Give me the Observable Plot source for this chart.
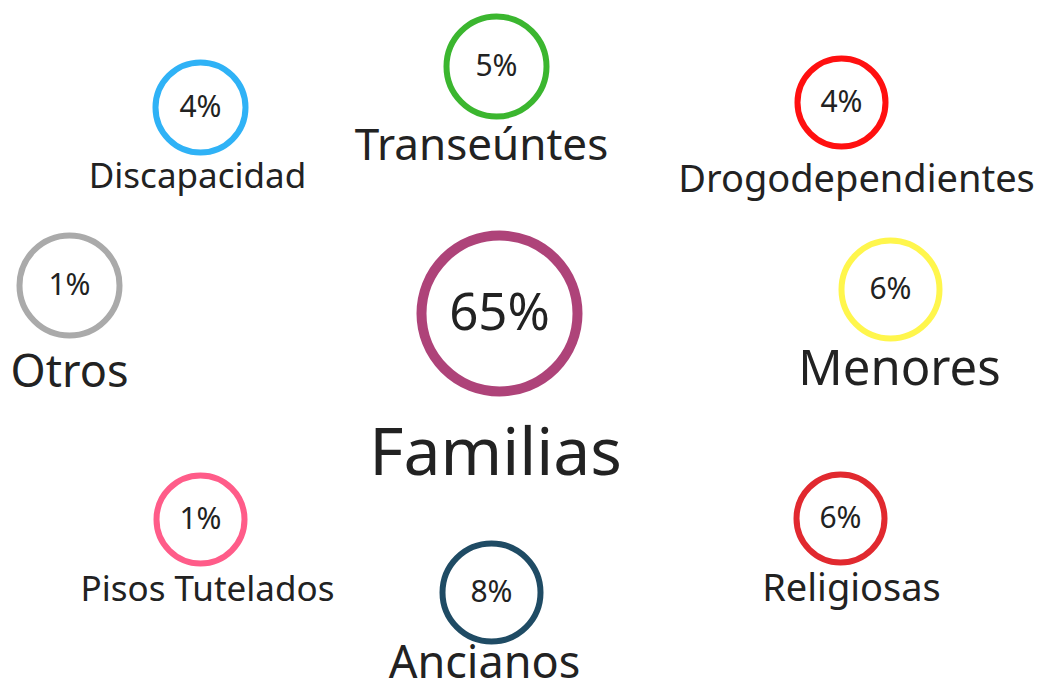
<!DOCTYPE html>
<html>
<head>
<meta charset="utf-8">
<script src="https://cdn.jsdelivr.net/npm/d3@7"></script>
<script src="https://cdn.jsdelivr.net/npm/@observablehq/plot@0.6"></script>
<style>
  html, body { margin: 0; padding: 0; background: #fff; }
  #chart svg { display: block; }
</style>
</head>
<body>
<div id="chart"></div>
<script>
// Data
const categories = ["Familias", "Transeúntes", "Discapacidad", "Drogodependientes", "Otros", "Menores", "Pisos Tutelados", "Ancianos", "Religiosas"];
const values = [65, 5, 4, 4, 1, 6, 1, 8, 6];
const colors = ["#ae4379", "#3bb62f", "#2fb2f6", "#ff1010", "#aaaaaa", "#fff64c", "#ff5c89", "#1f4b64", "#e1292f"];

// Layout (position of each bubble, in the layout's own units)
const bubbleX = [499, 496, 200, 841, 69, 890, 200, 491, 840];
const bubbleY = [313, 66, 107, 102, 285, 289, 519, 592, 518];
const labelX  = [495, 481, 197, 856, 69, 899, 207, 484, 851];
const labelY  = [474, 159, 187, 191, 386, 384, 600, 677, 600];
const radius  = [78, 50, 45, 44, 50, 49, 44, 49, 44];
const ringWidth = [10, 6, 6, 6, 6, 6, 6, 6, 6];
const valueSize = [51, 30, 30, 30, 30, 30, 30, 30, 30];
const labelSize = [66, 44, 35, 38, 45, 49, 35, 45, 38];

const rows = categories.map((c, i) => ({
  category: c, value: values[i], color: colors[i],
  bx: bubbleX[i], by: bubbleY[i], lx: labelX[i], ly: labelY[i],
  r: radius[i], sw: ringWidth[i], vs: valueSize[i], ls: labelSize[i]
}));

const W = 1040, H = 684;
const font = "'Noto Sans', sans-serif";

const chart = Plot.plot({
  width: W, height: H,
  margin: 0,
  x: {domain: [0, W], range: [0, W], axis: null},
  y: {domain: [0, H], range: [0, H], axis: null},
  r: {type: "identity"},
  style: {fontFamily: font, background: "#fff"},
  marks: [
    Plot.dot(rows, {x: "bx", y: "by", r: "r", stroke: d => d.color, strokeWidth: "sw", fill: "none"}),
    Plot.text(rows, {x: "bx", y: "by", text: d => d.value + "%", fontSize: "vs", fill: "#222", lineAnchor: "middle", textAnchor: "middle"}),
    Plot.text(rows, {x: "lx", y: "ly", text: "category", fontSize: "ls", fill: "#222", lineAnchor: "bottom", textAnchor: "middle"})
  ]
});
document.getElementById("chart").appendChild(chart);
</script>
</body>
</html>
